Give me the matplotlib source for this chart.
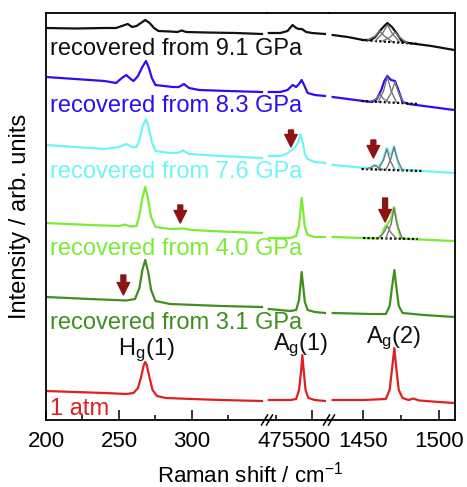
import matplotlib
matplotlib.use("Agg")
import matplotlib.pyplot as plt

plt.rcParams['font.family'] = ['Liberation Sans', 'DejaVu Sans']
plt.rcParams['mathtext.default'] = 'regular'

# ---------------- data (x: Raman shift cm-1, y: intensity, arb. units incl. offset) --------------
# 1 atm (red)
atm_s1_x = [200, 220, 240, 255, 260, 263, 265, 267, 268, 269, 271, 273, 276, 282, 300, 320, 348]
atm_s1_y = [29, 28, 27, 26, 27, 32, 42, 55, 58, 55, 42, 30, 24, 22, 21, 20, 19]
atm_s2_x = [470, 485, 489, 491, 492.5, 493.3, 494.2, 495.5, 497.5, 502, 509]
atm_s2_y = [20, 20, 21, 30, 50, 65, 50, 30, 22, 20, 19]
atm_s3_x = [1430, 1450, 1465, 1467.5, 1469, 1470.6, 1472, 1473.5, 1476, 1480, 1483, 1487, 1500, 1510]
atm_s3_y = [20, 20, 21, 30, 50, 72, 50, 30, 22, 20, 21.5, 19.5, 18, 17]

# recovered from 3.1 GPa (dark green)
p31_s1_x = [200, 230, 255, 261, 264, 266, 268, 270, 272, 275, 285, 320, 348]
p31_s1_y = [123, 121, 119.5, 121, 132, 150, 160, 148, 130, 119, 116, 114, 113]
p31_s2_x = [470, 485, 489, 491, 492, 492.8, 493.8, 495, 497, 502, 509]
p31_s2_y = [111, 109, 110, 120, 135, 148, 135, 118, 110, 108, 107]
p31_s3_x = [1430, 1455, 1465, 1467.5, 1469, 1470.6, 1472, 1473.5, 1476, 1490, 1510]
p31_s3_y = [107, 106, 106, 114, 132, 150, 132, 114, 107, 105, 103]

# recovered from 4.0 GPa (light green)
p40_s1_x = [200, 230, 250, 254, 258, 262, 264, 266, 268, 270, 272, 275, 285, 294, 300, 320, 348]
p40_s1_y = [197, 195, 194, 195.5, 193.5, 194, 205, 222, 233, 220, 203, 193, 191, 191.5, 190, 188.5, 187]
p40_s2_x = [470, 485, 489, 491, 492, 492.8, 493.8, 495, 497, 502, 509]
p40_s2_y = [182, 182, 184, 195, 210, 222, 210, 193, 185, 183, 183]
p40_s3_x = [1430, 1450, 1460, 1462, 1464, 1466, 1468, 1470.4, 1472, 1473.5, 1475, 1480, 1495, 1510]
p40_s3_y = [183, 182, 181.5, 184, 192, 196, 200, 213, 200, 188, 182, 181, 180, 179]

# recovered from 7.6 GPa (cyan)
p76_s1_x = [200, 220, 240, 250, 255, 259, 262, 264, 266, 268.5, 270.5, 272.5, 275, 285, 290, 294, 298, 320, 348]
p76_s1_y = [275, 273, 271, 273, 276, 273, 273, 280, 293, 301, 292, 278, 269, 267, 267, 269.5, 266, 264, 262]
p76_s2_x = [470, 478, 482, 485, 487, 489, 490.5, 492, 493.5, 495, 497, 502, 509]
p76_s2_y = [264, 264, 266, 269, 271, 274, 278, 286, 278, 266, 261, 258, 257]
p76_s3_x = [1430, 1445, 1450, 1455, 1458, 1461, 1463, 1465.6, 1467.5, 1468.5, 1470.4, 1472, 1474, 1478, 1490, 1510]
p76_s3_y = [255, 253, 252, 252, 254, 255, 260, 272, 266, 265, 274, 264, 251, 250, 249, 247]

# recovered from 8.3 GPa (blue)
p83_s1_x = [200, 220, 240, 248, 252, 255, 258, 260, 263, 266, 268.5, 270.5, 272.5, 275, 287, 291, 294.5, 298, 305, 325, 348]
p83_s1_y = [343, 341, 339, 337, 342, 345, 341, 339, 344, 353, 359, 352, 342, 335, 333, 333, 336, 332, 330, 329, 328]
p83_s2_x = [470, 478, 483, 486.5, 489, 491, 492.8, 494.5, 497, 502, 509]
p83_s2_y = [328, 328, 330, 335, 333, 336, 340, 335, 327, 325, 324]
p83_s3_x = [1430, 1440, 1450, 1456, 1459, 1462, 1464, 1466, 1468.4, 1471, 1473, 1476, 1480, 1495, 1510]
p83_s3_y = [323, 321, 319, 318, 321, 330, 339, 344, 340, 339, 331, 318, 316, 313, 310]

# recovered from 9.1 GPa (black)
p91_s1_x = [200, 220, 240, 248, 252, 256, 259, 262, 265, 268, 271, 274, 277, 285, 290, 293, 296, 310, 330, 348]
p91_s1_y = [392, 391.5, 392, 392, 394, 396, 393, 394, 397, 400, 397, 392, 389, 388.5, 388, 389.5, 388, 387.5, 387, 386]
p91_s2_x = [470, 478, 483, 486.5, 489, 491, 493, 496, 500, 509]
p91_s2_y = [387, 387, 389, 395, 392, 391, 391, 388, 387, 386]
p91_s3_x = [1430, 1440, 1450, 1455, 1458, 1461, 1464, 1466, 1469, 1472, 1475.5, 1480, 1495, 1510]
p91_s3_y = [385, 383, 380, 380, 383, 389, 394, 397, 393, 387, 379, 377, 374, 370]

# fitted components of the Ag(2) band
fit91_base_x, fit91_base_y = [1449, 1487], [380, 376]
fit91_c1_x, fit91_c1_y = [1453, 1458, 1461, 1464, 1469], [380, 384, 389, 384, 378.5]
fit91_c2_x, fit91_c2_y = [1458, 1463, 1466, 1469, 1474], [379, 387, 395, 387, 378]
fit91_c3_x, fit91_c3_y = [1463, 1468, 1471, 1474, 1479], [379, 383, 388, 383, 377]

fit83_base_x, fit83_base_y = [1449, 1487], [319, 316]
fit83_c1_x, fit83_c1_y = [1455, 1458.5, 1461, 1463.5, 1467], [318.5, 321, 326, 321, 318]
fit83_c2_x, fit83_c2_y = [1460, 1463.5, 1466, 1468.5, 1472], [318, 329, 343, 329, 317.5]
fit83_c3_x, fit83_c3_y = [1465, 1468.5, 1471, 1473.5, 1477], [318, 327, 338, 327, 317]

fit76_base_x, fit76_base_y = [1449, 1489], [251, 249]
fit76_c1_x, fit76_c1_y = [1452, 1455, 1457.5, 1460, 1463], [251, 252.5, 255, 252.5, 250.5]
fit76_c2_x, fit76_c2_y = [1460, 1463.5, 1465.6, 1467.7, 1471], [250.5, 260, 271, 260, 250]
fit76_c3_x, fit76_c3_y = [1465, 1468.3, 1470.4, 1472.5, 1476], [250, 261, 273, 261, 249.5]

fit40_base_x, fit40_base_y = [1450, 1486], [182, 181]
fit40_c1_x, fit40_c1_y = [1460, 1463.5, 1466, 1468.5, 1472], [182, 187, 194, 187, 181.5]
fit40_c2_x, fit40_c2_y = [1465, 1468.5, 1470.4, 1472.3, 1476], [181.5, 196, 212, 196, 181]

# arrows: (segment, x, tail y, tip y)
arrow_seg = [0, 0, 1, 2, 2]
arrow_x = [253, 292, 485.4, 1456.8, 1464.5]
arrow_tail = [145, 215, 290, 280, 222]
arrow_tip = [125, 197, 273, 262, 198]

labels = ["recovered from 9.1 GPa", "recovered from 8.3 GPa", "recovered from 7.6 GPa",
          "recovered from 4.0 GPa", "recovered from 3.1 GPa", "1 atm"]
label_y = [365, 308.5, 242, 165, 91, 5]
colors = ["#111111", "#2a0ff0", "#70f5f5", "#77ee33", "#3f8f1f", "#e02020"]

peak_names = ["H$_g$(1)", "A$_g$(1)", "A$_g$(2)"]
peak_seg = [0, 1, 2]
peak_x = [269, 492, 1470]
peak_y = [65, 70, 77]

seg1_ticks, seg1_minor = [200, 250, 300], [225, 275, 325]
seg2_ticks, seg2_minor = [500], [475]
seg3_ticks, seg3_minor = [1450, 1500], [1475]

# ---------------- figure ----------------
W, H = 467, 487
fig = plt.figure(figsize=(W / 100, H / 100), dpi=100)
bot, top = 420, 13
edges = [46, 267, 329, 455]
xlims = [(200, 351.4), (468.75, 511.8), (1427.6, 1510.5)]
axes = []
for i in range(3):
    ax = fig.add_axes([edges[i] / W, 1 - bot / H, (edges[i + 1] - edges[i]) / W, (bot - top) / H])
    ax.set_xlim(*xlims[i])
    ax.set_ylim(0, 407)
    ax.patch.set_alpha(0)
    ax.set_yticks([])
    for s in ax.spines.values():
        s.set_linewidth(1.3)
    if i > 0:
        ax.spines['left'].set_visible(False)
    if i < 2:
        ax.spines['right'].set_visible(False)
    ax.tick_params(axis='x', which='both', direction='in', labelsize=16, pad=8, width=1.1)
    ax.tick_params(axis='x', which='major', length=7)
    ax.tick_params(axis='x', which='minor', length=3.5)
    axes.append(ax)

axes[0].set_xticks(seg1_ticks, [str(t) for t in seg1_ticks])
axes[0].set_xticks(seg1_minor, minor=True)
axes[1].set_xticks(seg2_ticks, [str(t) for t in seg2_ticks])
axes[1].set_xticks(seg2_minor, [str(t) for t in seg2_minor], minor=True)
axes[2].set_xticks(seg3_ticks, [str(t) for t in seg3_ticks])
axes[2].set_xticks(seg3_minor, minor=True)
axes[1].tick_params(axis='x', which='minor', labelsize=16, pad=8)

traces = [
    [(p91_s1_x, p91_s1_y), (p91_s2_x, p91_s2_y), (p91_s3_x, p91_s3_y)],
    [(p83_s1_x, p83_s1_y), (p83_s2_x, p83_s2_y), (p83_s3_x, p83_s3_y)],
    [(p76_s1_x, p76_s1_y), (p76_s2_x, p76_s2_y), (p76_s3_x, p76_s3_y)],
    [(p40_s1_x, p40_s1_y), (p40_s2_x, p40_s2_y), (p40_s3_x, p40_s3_y)],
    [(p31_s1_x, p31_s1_y), (p31_s2_x, p31_s2_y), (p31_s3_x, p31_s3_y)],
    [(atm_s1_x, atm_s1_y), (atm_s2_x, atm_s2_y), (atm_s3_x, atm_s3_y)],
]
for tr, c in zip(traces, colors):
    for ax, (xs, ys) in zip(axes, tr):
        ax.plot(xs, ys, color=c, lw=1.6, solid_joinstyle='round')

fits = [
    (fit91_base_x, fit91_base_y, [(fit91_c1_x, fit91_c1_y), (fit91_c2_x, fit91_c2_y), (fit91_c3_x, fit91_c3_y)]),
    (fit83_base_x, fit83_base_y, [(fit83_c1_x, fit83_c1_y), (fit83_c2_x, fit83_c2_y), (fit83_c3_x, fit83_c3_y)]),
    (fit76_base_x, fit76_base_y, [(fit76_c1_x, fit76_c1_y), (fit76_c2_x, fit76_c2_y), (fit76_c3_x, fit76_c3_y)]),
    (fit40_base_x, fit40_base_y, [(fit40_c1_x, fit40_c1_y), (fit40_c2_x, fit40_c2_y)]),
]
for bx, by, comps in fits:
    axes[2].plot(bx, by, color='black', lw=1.6, ls=(0, (1, 1)), zorder=3)
    for cx, cy in comps:
        axes[2].plot(cx, cy, color='#777777', lw=1.0, zorder=3)

for s, x, t0, t1 in zip(arrow_seg, arrow_x, arrow_tail, arrow_tip):
    axes[s].annotate('', xy=(x, t1), xytext=(x, t0),
                     arrowprops=dict(arrowstyle='simple,head_width=0.9,head_length=0.9,tail_width=0.35',
                                     color='#8b1515', shrinkA=0, shrinkB=0, mutation_scale=10))

for lab, ly, c in zip(labels, label_y, colors):
    axes[0].text(202.7, ly, lab, color=c, fontsize=17, va='baseline', ha='left', clip_on=False, zorder=5)

for name, s, x, y in zip(peak_names, peak_seg, peak_x, peak_y):
    axes[s].text(x, y, name, fontsize=17, ha='center', va='baseline', color='#111111', clip_on=False, zorder=5)

# break marks on the bottom axis line
for xb in [267, 329]:
    for dx in [-2.5, 2.5]:
        x0 = (xb + dx - 3) / W
        x1 = (xb + dx + 3) / W
        y0 = 1 - (bot + 5) / H
        y1 = 1 - (bot - 5) / H
        fig.add_artist(plt.Line2D([x0, x1], [y0, y1], color='black', lw=1.1))

fig.text(250 / W, 1 - 482 / H, "Raman shift / cm$^{-1}$", fontsize=16, ha='center', va='baseline')
fig.text(20 / W, 1 - 216 / H, "Intensity / arb. units", fontsize=17, ha='center', va='center', rotation=90)

fig.savefig("out.png", dpi=100)
